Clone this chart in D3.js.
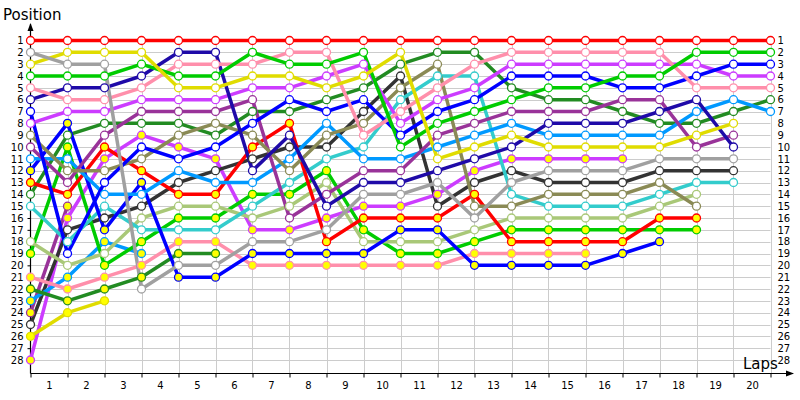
<!DOCTYPE html>
<html><head><meta charset="utf-8">
<script src="https://cdn.jsdelivr.net/npm/d3@7"></script>
<style>
body{margin:0;background:#fff}
svg{display:block}
text{font-family:"DejaVu Sans",Verdana,sans-serif}
</style>
</head><body>
<svg id="c" width="800" height="400"></svg>
<script>
// ---------- data ----------
const lapLabels = ["1","2","3","4","5","6","7","8","9","10","11","12","13","14","15","16","17","18","19","20"];
const positionTicks = [1,2,3,4,5,6,7,8,9,10,11,12,13,14,15,16,17,18,19,20,21,22,23,24,25,26,27,28];

// positions per lap (index 0 = grid)
const redA      = [1,1,1,1,1,1,1,1,1,1,1,1,1,1,1,1,1,1,1,1,1];
const grayA     = [2,3,3,22,20,20,18,18,17,14,14,13,16,13,12,12,12,11,11,11];
const yellowA   = [3,2,2,2,5,5,4,4,5,4,2,11,10,9,10,10,10,10,9,8];
const greenA    = [4,4,4,3,4,4,2,3,3,2,10,8,7,6,5,5,4,4,2,2,2];
const pinkA     = [5,6,6,5,3,3,3,2,2,9,7,5,3,2,2,2,2,2,5,5,5];
const navyA     = [6,5,5,4,2,2,12,9,15,13,13,12,11,10,8,8,8,7,6,10];
const blueA     = [7,19,13,10,11,10,8,6,7,6,9,7,6,4,4,4,5,5,4,3,3];
const violetA   = [8,7,7,6,6,6,5,5,4,3,8,6,5,3,3,3,3,3,3,4,4];
const oliveA    = [9,12,12,11,9,8,9,12,9,8,5,3,15,15,14,14,14,13,15];
const purpleA   = [10,13,9,7,7,7,6,16,14,12,12,9,8,7,7,7,6,6,10,9];
const skyA      = [11,11,14,14,12,13,13,11,8,11,11,10,9,8,9,9,9,9,7,6,7];
const blueB     = [12,8,17,13,21,21,19,19,19,19,17,17,20,20,20,20,19,18];
const redB      = [13,14,10,12,14,14,10,8,18,16,16,16,14,18,18,18,18,16,16];
const dgreenA   = [14,9,8,8,8,9,7,7,6,5,3,2,2,5,6,6,7,8,8,7,6];
const cyanA     = [15,18,15,17,17,17,15,13,11,10,6,4,4,14,15,15,15,14,13,13];
const lgreenA   = [18,20,19,16,15,15,16,15,13,18,18,18,17,16,16,16,16,15,14];
const greenB    = [19,10,20,18,16,16,14,14,12,17,19,19,18,17,17,17,17,17,17];
const pinkB     = [21,22,21,20,18,18,20,20,20,20,20,20,19,19,19,19];
const dgreenB   = [22,23,22,21,19,19];
const skyB      = [23,21,18,19];
const purpleB   = [24,15];
const blackA    = [25,17,16,15,13,12,11,10,10,7,4,15,13,12,13,13,13,12,12,12];
const yellowB   = [26,24,23];
const violetB   = [28,16,11,9,10,11,17,17,16,15,15,14,12,11,11,11,11];

const seriesList = [redA,grayA,yellowA,greenA,pinkA,navyA,blueA,violetA,oliveA,purpleA,skyA,blueB,redB,dgreenA,cyanA,lgreenA,greenB,pinkB,dgreenB,skyB,purpleB,blackA,yellowB,violetB];
// ---------- styles ----------
const seriesColors = ["#ff0000","#a0a0a0","#e0dc00","#00cc00","#ff8fab","#1f0aa8","#0000ff","#cc3cff","#8a8a55","#993399","#0099ff","#0000ff","#ff0000","#228b22","#33cccc","#a9c878","#00cc00","#ff8fab","#228b22","#0099ff","#993399","#333333","#e0dc00","#cc3cff"];
const seriesMarker = ["#ffffff","#ffffff","#ffffff","#ffffff","#ffffff","#ffffff","#ffffff","#ffffff","#ffffff","#ffffff","#ffffff","#ffff00","#ffff00","#ffffff","#ffffff","#ffffff","#ffff00","#ffff00","#ffff00","#ffff00","#ffff00","#ffffff","#ffff00","#ffff00"];

// ---------- chart ----------
const svg = d3.select("#c");
const x = d3.scaleLinear().domain([0,20]).range([30.5,770.5]);
const y = d3.scaleLinear().domain([1,28]).range([40.5,360]);
const axisY = 373.5;

// grid
const grid = svg.append("g");
grid.selectAll("line.h").data(positionTicks).join("line")
  .attr("x1",x(0)).attr("x2",x(20)).attr("y1",d=>Math.round(y(d))+0.5).attr("y2",d=>Math.round(y(d))+0.5)
  .attr("stroke","#cccccc").attr("stroke-width",1);
grid.selectAll("line.v").data(d3.range(1,21)).join("line")
  .attr("x1",d=>Math.round(x(d))+0.5).attr("x2",d=>Math.round(x(d))+0.5).attr("y1",y(1)).attr("y2",axisY)
  .attr("stroke","#cccccc").attr("stroke-width",1);

// left axis
const gl = svg.append("g").attr("transform",`translate(${x(0)},0)`)
  .call(d3.axisLeft(y).tickValues(positionTicks).tickSize(3).tickPadding(4).tickFormat(d3.format("d")));
gl.select(".domain").remove();
gl.selectAll("line").attr("stroke","#000");
gl.selectAll("text").attr("font-size",10).attr("fill","#000");

// right labels
const gr = svg.append("g").attr("transform",`translate(${x(20)+3},0)`)
  .call(d3.axisRight(y).tickValues(positionTicks).tickSize(0).tickPadding(4).tickFormat(d3.format("d")));
gr.select(".domain").remove();
gr.selectAll("text").attr("font-size",10).attr("fill","#000");

// bottom axis ticks
const xb = d3.scaleLinear().domain([0,20]).range([30.5,770.5]);
const gb = svg.append("g").attr("transform",`translate(0,${axisY})`)
  .call(d3.axisBottom(xb).tickValues(d3.range(0,21)).tickSize(4).tickFormat(""));
gb.select(".domain").remove();
gb.selectAll("line").attr("stroke","#000");
const gbl = svg.append("g").attr("transform",`translate(0,${axisY})`)
  .call(d3.axisBottom(xb).tickValues(d3.range(0,20).map(i=>i+0.5)).tickSize(0).tickPadding(8).tickFormat((d,i)=>lapLabels[i]));
gbl.select(".domain").remove();
gbl.selectAll("text").attr("font-size",10).attr("fill","#000");

// axis lines with arrows
svg.append("line").attr("x1",x(0)).attr("x2",x(0)).attr("y1",24).attr("y2",axisY).attr("stroke","#000").attr("stroke-width",1.2);
svg.append("path").attr("d",`M${x(0)-3},31 L${x(0)},23 L${x(0)+3},31 Z`).attr("fill","#000");
svg.append("line").attr("x1",x(0)).attr("x2",793).attr("y1",axisY).attr("y2",axisY).attr("stroke","#000").attr("stroke-width",1.2);
svg.append("path").attr("d",`M786,${axisY-3} L794,${axisY} L786,${axisY+3} Z`).attr("fill","#000");

svg.append("text").attr("x",3).attr("y",20).attr("font-size",15).text("Position");
svg.append("text").attr("x",743).attr("y",369).attr("font-size",15).text("Laps");

// series
const line = d3.line().x((d,i)=>x(i)).y(d=>y(d));
const gLines = svg.append("g");
const order = d3.range(seriesList.length).reverse();
order.forEach(k=>{
  gLines.append("path").datum(seriesList[k]).attr("d",line)
    .attr("fill","none").attr("stroke",seriesColors[k]).attr("stroke-width",3.5)
    .attr("stroke-linejoin","round");
});
const gDots = svg.append("g");
order.forEach(k=>{
  gDots.selectAll(null).data(seriesList[k]).join("circle")
    .attr("cx",(d,i)=>x(i)).attr("cy",d=>y(d)).attr("r",4)
    .attr("fill",seriesMarker[k]).attr("stroke",seriesColors[k]).attr("stroke-width",1.3);
});
</script>
</body></html>
